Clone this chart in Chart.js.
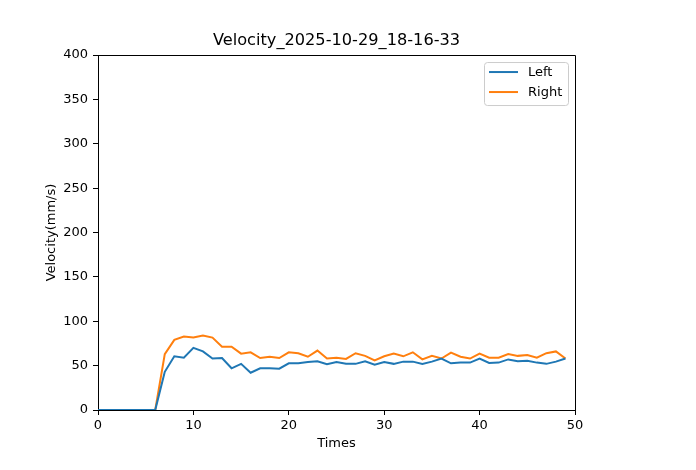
<!DOCTYPE html>
<html>
<head>
<meta charset="utf-8">
<script src="https://cdn.jsdelivr.net/npm/chart.js@4.4.1/dist/chart.umd.min.js"></script>
<style>
  html, body { margin: 0; padding: 0; background: #fff; }
  #wrap { width: 696px; height: 470px; }
</style>
</head>
<body>
<div id="wrap"><canvas id="velChart" width="696" height="470"></canvas></div>
<script>
// chart data
var chartTitle = 'Velocity_2025-10-29_18-16-33'
var times = []
for (var i = 0; i < 50; i++) times.push(i)

var leftVel = [0, 0, 0, 0, 0, 0, 0, 43, 60.5, 59, 70, 66, 58, 58.6, 47, 52, 42, 47, 47, 46.6,
  52.6, 52.6, 54, 55, 51.5, 54, 52, 52, 55, 51, 54, 52, 54.5, 54.5, 52, 54.5, 58, 52.6, 53.4, 53.4,
  58, 53, 53.4, 57, 55, 55.6, 53.4, 52, 54.5, 58]
var rightVel = [0, 0, 0, 0, 0, 0, 0, 63, 79, 82.7, 81.6, 84, 81.6, 71.4, 71.4, 63.5, 65, 58.6, 60, 58.6,
  65, 64, 60, 67, 58, 59, 57.5, 64, 61, 56, 60.5, 63.5, 60.5, 65, 57, 61, 58, 64.6, 60, 58,
  63.5, 59, 59, 63, 61, 62, 59, 64, 66, 58]

var xTicks = [0, 10, 20, 30, 40, 50]
var yTicks = [0, 50, 100, 150, 200, 250, 300, 350, 400]

var FONT = 'DejaVu Sans'

function toPoints(xs, ys) {
  return xs.map(function (x, idx) { return { x: x, y: ys[idx] } })
}

// top and right spines + the boxed legend, matplotlib style
var framePlugin = {
  id: 'frame',
  afterDraw: function (chart) {
    var ctx = chart.ctx
    var a = chart.chartArea
    ctx.save()
    ctx.strokeStyle = '#000'
    ctx.lineWidth = 1
    ctx.beginPath()
    ctx.moveTo(Math.round(a.left) + 0.5, Math.round(a.top) + 0.5)
    ctx.lineTo(Math.round(a.right) + 0.5, Math.round(a.top) + 0.5)
    ctx.lineTo(Math.round(a.right) + 0.5, Math.round(a.bottom) + 0.5)
    ctx.stroke()

    // legend box
    var bw = 84, bh = 43
    var bx = a.right - 7 - bw, by = a.top + 7
    ctx.fillStyle = 'rgba(255,255,255,0.8)'
    ctx.strokeStyle = '#cccccc'
    ctx.beginPath()
    ctx.roundRect(bx + 0.5, by + 0.5, bw, bh, 3)
    ctx.fill()
    ctx.stroke()

    ctx.font = '13px "' + FONT + '"'
    ctx.textBaseline = 'middle'
    ctx.textAlign = 'left'
    chart.data.datasets.forEach(function (ds, idx) {
      var ry = by + 10 + idx * 20
      ctx.strokeStyle = ds.borderColor
      ctx.lineWidth = 2
      ctx.beginPath()
      ctx.moveTo(bx + 5, ry)
      ctx.lineTo(bx + 34, ry)
      ctx.stroke()
      ctx.fillStyle = '#000'
      ctx.fillText(ds.label, bx + 44, ry + 1)
    })
    ctx.restore()
  }
}

var ctx = document.getElementById('velChart').getContext('2d')
var chart = new Chart(ctx, {
  type: 'line',
  data: {
    datasets: [
      {
        label: 'Left',
        data: toPoints(times, leftVel),
        borderColor: '#1f77b4',
        borderWidth: 2,
        pointRadius: 0,
        tension: 0,
        fill: false,
      },
      {
        label: 'Right',
        data: toPoints(times, rightVel),
        borderColor: '#ff7f0e',
        borderWidth: 2,
        pointRadius: 0,
        tension: 0,
        fill: false,
      },
    ],
  },
  options: {
    responsive: false,
    animation: false,
    layout: { padding: { left: 0, right: 121, top: 0, bottom: 0 } },
    plugins: {
      legend: { display: false },
      tooltip: { enabled: false },
      title: {
        display: true,
        text: chartTitle,
        fullSize: false,
        color: '#000',
        font: { family: FONT, size: 16.2, weight: 'normal' },
        padding: { top: 31.5, bottom: 4.1 },
      },
    },
    scales: {
      x: {
        type: 'linear',
        min: 0,
        max: 50,
        afterFit: function (scale) { scale.height = 60 },
        afterBuildTicks: function (scale) {
          scale.ticks = xTicks.map(function (v) { return { value: v } })
        },
        grid: { display: true, drawOnChartArea: false, drawTicks: true, tickLength: 5, color: '#000' },
        border: { display: true, color: '#000', width: 1 },
        ticks: { color: '#000', padding: 3, maxRotation: 0, font: { family: FONT, size: 13 } },
        title: {
          display: true,
          text: 'Times',
          color: '#000',
          font: { family: FONT, size: 13 },
          padding: { top: 0, bottom: 19 },
        },
      },
      y: {
        type: 'linear',
        min: 0,
        max: 400,
        afterFit: function (scale) { scale.width = 98 },
        afterBuildTicks: function (scale) {
          scale.ticks = yTicks.map(function (v) { return { value: v } })
        },
        grid: { display: true, drawOnChartArea: false, drawTicks: true, tickLength: 5, color: '#000' },
        border: { display: true, color: '#000', width: 1 },
        ticks: { color: '#000', padding: 5, font: { family: FONT, size: 13 } },
        title: {
          display: true,
          text: 'Velocity(mm/s)',
          color: '#000',
          font: { family: FONT, size: 13 },
          padding: { top: 44, bottom: 0 },
        },
      },
    },
  },
  plugins: [framePlugin],
})
</script>
</body>
</html>
